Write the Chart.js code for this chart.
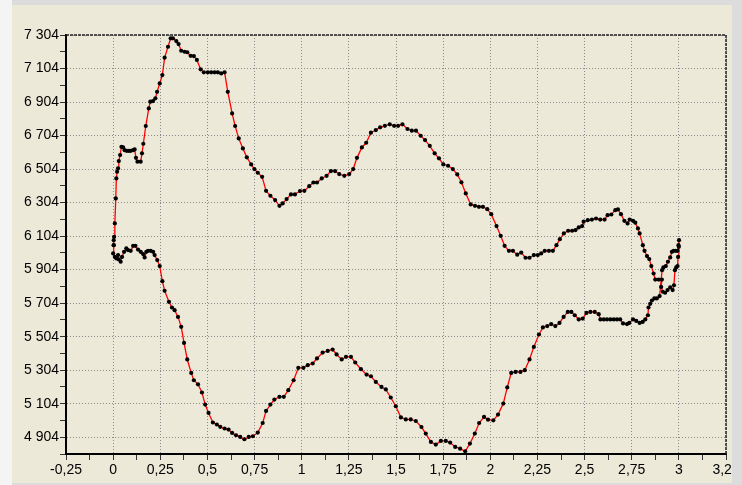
<!DOCTYPE html>
<html>
<head>
<meta charset="utf-8">
<script src="https://cdn.jsdelivr.net/npm/chart.js@4"></script>
<style>
  body { margin: 0; background: #dcdcdc; width: 742px; height: 485px; overflow: hidden; position: relative; }
  #left { position: absolute; left: 0; top: 0; width: 12px; height: 485px; background: #f4f4f4; }
  #wrap { position: absolute; left: 12px; top: 5px; width: 720px; height: 478px; background: #ece9d8; }
</style>
</head>
<body>
<div id="left"></div>
<div id="wrap"><canvas id="grafico" width="720" height="478"></canvas></div>
<script>
// upper branch, left to right
const upperX = [0.003, 0.003, 0.005, 0.009, 0.014, 0.017, 0.021, 0.026, 0.030, 0.037, 0.044, 0.053, 0.061, 0.072, 0.083, 0.093, 0.106, 0.114, 0.121, 0.129, 0.146, 0.153, 0.160, 0.173, 0.189, 0.197, 0.211, 0.224, 0.233, 0.247, 0.261, 0.273, 0.291, 0.305, 0.317, 0.335, 0.347, 0.361, 0.379, 0.393, 0.411, 0.428, 0.444, 0.464, 0.481, 0.502, 0.520, 0.538, 0.555, 0.573, 0.591, 0.608, 0.631, 0.647, 0.666, 0.688, 0.709, 0.732, 0.749, 0.767, 0.790, 0.811, 0.834, 0.859, 0.882, 0.899, 0.920, 0.943, 0.964, 0.991, 1.014, 1.040, 1.062, 1.081, 1.106, 1.132, 1.155, 1.177, 1.199, 1.226, 1.252, 1.273, 1.293, 1.319, 1.342, 1.367, 1.393, 1.416, 1.441, 1.467, 1.490, 1.511, 1.534, 1.561, 1.584, 1.606, 1.631, 1.654, 1.679, 1.705, 1.728, 1.751, 1.776, 1.801, 1.825, 1.847, 1.870, 1.896, 1.919, 1.940, 1.961, 1.984, 2.005, 2.033, 2.055, 2.076, 2.099, 2.120, 2.143, 2.164, 2.187, 2.208, 2.231, 2.252, 2.270, 2.289, 2.311, 2.332, 2.351, 2.369, 2.390, 2.413, 2.434, 2.452, 2.469, 2.487, 2.495, 2.517, 2.539, 2.561, 2.583, 2.606, 2.622, 2.642, 2.663, 2.677, 2.693, 2.711, 2.728, 2.739, 2.757, 2.769, 2.783, 2.792, 2.809, 2.818, 2.831, 2.843, 2.854, 2.866, 2.875, 2.893, 2.910, 2.906, 2.915, 2.927, 2.940, 2.954, 2.967, 2.974, 2.979, 2.986, 2.993, 2.996, 3.000, 3.001];
const upperY = [6050, 6080, 6100, 6180, 6329, 6448, 6488, 6508, 6552, 6588, 6637, 6633, 6617, 6613, 6613, 6613, 6617, 6621, 6571, 6548, 6548, 6598, 6655, 6761, 6866, 6906, 6910, 6926, 6965, 7015, 7065, 7169, 7234, 7284, 7284, 7268, 7250, 7210, 7204, 7201, 7180, 7178, 7155, 7099, 7081, 7081, 7081, 7081, 7081, 7075, 7081, 6965, 6836, 6761, 6687, 6627, 6574, 6532, 6504, 6482, 6458, 6374, 6345, 6319, 6285, 6299, 6325, 6353, 6353, 6373, 6374, 6402, 6424, 6424, 6448, 6464, 6492, 6492, 6474, 6464, 6474, 6504, 6571, 6633, 6661, 6721, 6737, 6753, 6762, 6771, 6762, 6762, 6771, 6743, 6733, 6733, 6703, 6677, 6643, 6598, 6568, 6532, 6524, 6504, 6472, 6425, 6359, 6293, 6285, 6279, 6279, 6265, 6235, 6164, 6106, 6046, 6016, 6016, 5993, 6006, 5975, 5975, 5991, 5991, 6001, 6016, 6016, 6016, 6050, 6086, 6120, 6136, 6136, 6140, 6156, 6164, 6190, 6199, 6203, 6209, 6203, 6203, 6229, 6233, 6259, 6263, 6235, 6195, 6180, 6203, 6195, 6184, 6150, 6120, 6050, 6016, 5985, 5967, 5925, 5881, 5845, 5845, 5845, 5801, 5772, 5766, 5782, 5798, 5782, 5811, 5901, 5917, 5925, 5980, 6040, 6080];

// lower branch, right to left
const lowerX = [2.998, 2.993, 2.984, 2.972, 2.963, 2.954, 2.942, 2.931, 2.918, 2.911, 2.898, 2.883, 2.870, 2.857, 2.848, 2.839, 2.836, 2.822, 2.808, 2.792, 2.774, 2.757, 2.737, 2.725, 2.704, 2.689, 2.672, 2.655, 2.637, 2.619, 2.602, 2.584, 2.575, 2.554, 2.531, 2.510, 2.490, 2.469, 2.448, 2.430, 2.411, 2.389, 2.367, 2.345, 2.323, 2.302, 2.279, 2.258, 2.231, 2.208, 2.183, 2.160, 2.134, 2.111, 2.090, 2.069, 2.041, 2.016, 1.988, 1.967, 1.941, 1.918, 1.892, 1.867, 1.840, 1.814, 1.787, 1.764, 1.738, 1.711, 1.685, 1.658, 1.635, 1.605, 1.578, 1.552, 1.526, 1.499, 1.472, 1.446, 1.423, 1.393, 1.367, 1.344, 1.314, 1.284, 1.261, 1.235, 1.212, 1.185, 1.164, 1.138, 1.111, 1.081, 1.058, 1.032, 1.009, 0.982, 0.957, 0.929, 0.905, 0.882, 0.855, 0.834, 0.811, 0.793, 0.767, 0.741, 0.719, 0.696, 0.674, 0.652, 0.631, 0.612, 0.591, 0.568, 0.550, 0.529, 0.506, 0.488, 0.471, 0.450, 0.428, 0.414, 0.393, 0.376, 0.361, 0.344, 0.326, 0.312, 0.296, 0.273, 0.261, 0.247, 0.234, 0.220, 0.212, 0.199, 0.185, 0.176, 0.167, 0.159, 0.146, 0.132, 0.118, 0.106, 0.093, 0.079, 0.070, 0.058, 0.047, 0.040, 0.030, 0.026, 0.017, 0.009, 0.000, 0.003];
const lowerY = [6050, 6016, 6016, 6016, 6010, 5977, 5951, 5925, 5917, 5901, 5746, 5732, 5732, 5720, 5700, 5678, 5632, 5607, 5592, 5586, 5598, 5607, 5586, 5579, 5583, 5607, 5607, 5607, 5607, 5607, 5607, 5607, 5638, 5652, 5652, 5646, 5612, 5607, 5632, 5652, 5652, 5622, 5586, 5567, 5579, 5567, 5559, 5517, 5443, 5368, 5304, 5294, 5294, 5288, 5201, 5105, 5039, 5005, 5009, 5025, 4989, 4926, 4866, 4820, 4836, 4846, 4872, 4882, 4882, 4860, 4876, 4926, 4965, 5001, 5010, 5010, 5022, 5089, 5141, 5189, 5204, 5234, 5268, 5278, 5310, 5350, 5384, 5384, 5368, 5398, 5427, 5419, 5409, 5374, 5344, 5334, 5318, 5318, 5244, 5185, 5145, 5145, 5129, 5099, 5061, 4989, 4932, 4910, 4906, 4892, 4906, 4916, 4930, 4950, 4956, 4966, 4980, 4992, 5049, 5099, 5171, 5220, 5244, 5288, 5368, 5467, 5563, 5622, 5662, 5678, 5712, 5778, 5835, 5925, 5961, 5991, 6010, 6016, 6016, 6010, 5977, 5997, 6010, 6024, 6046, 6046, 6016, 6021, 6031, 6010, 5980, 5951, 5965, 5991, 5971, 5980, 6001, 6050];

const xTicks = [-0.25, 0, 0.25, 0.5, 0.75, 1, 1.25, 1.5, 1.75, 2, 2.25, 2.5, 2.75, 3, 3.25];
const yTicks = [4904, 5104, 5304, 5504, 5704, 5904, 6104, 6304, 6504, 6704, 6904, 7104, 7304];

const puntos = [];
upperX.forEach((x, i) => puntos.push({ x: x, y: upperY[i] }));
lowerX.forEach((x, i) => puntos.push({ x: x, y: lowerY[i] }));

// minor ticks halfway between the labelled ones
const xAll = [];
xTicks.forEach((v, i) => { xAll.push(v); if (i < xTicks.length - 1) xAll.push((v + xTicks[i + 1]) / 2); });
const yAll = [4804];
yTicks.forEach((v, i) => { yAll.push(v); if (i < yTicks.length - 1) yAll.push(v + 100); });

const esMayorX = v => xTicks.some(t => Math.abs(t - v) < 1e-6);
const esMayorY = v => yTicks.indexOf(v) >= 0;

const fuente = { family: 'Liberation Sans, Arial, sans-serif', size: 14 };

// dashed frame on top and right side
const marco = {
  id: 'marco',
  afterDraw(chart) {
    const { ctx, chartArea: a } = chart;
    ctx.save();
    ctx.strokeStyle = '#222';
    ctx.lineWidth = 1.5;
    ctx.setLineDash([3, 1]);
    ctx.beginPath();
    ctx.moveTo(a.left, a.top);
    ctx.lineTo(a.right, a.top);
    ctx.lineTo(a.right, a.bottom);
    ctx.stroke();
    ctx.restore();
  }
};

new Chart(document.getElementById('grafico').getContext('2d'), {
  type: 'scatter',
  data: {
    datasets: [{
      data: puntos,
      showLine: true,
      borderColor: '#ff0000',
      borderWidth: 1.3,
      pointRadius: 2.1,
      pointBackgroundColor: '#000',
      pointBorderColor: '#000',
      pointBorderWidth: 0
    }]
  },
  options: {
    responsive: false,
    animation: false,
    layout: { padding: { top: 30, right: 6, left: 0, bottom: 0 } },
    plugins: { legend: { display: false }, tooltip: { enabled: false } },
    scales: {
      x: {
        type: 'linear',
        min: -0.25,
        max: 3.25,
        afterBuildTicks: s => { s.ticks = xAll.map(v => ({ value: v })); },
        afterFit: s => { s.height = 29; s.paddingLeft = 0; s.paddingRight = 0; },
        ticks: {
          autoSkip: false,
          maxRotation: 0,
          padding: 2,
          color: '#000',
          font: fuente,
          callback: v => esMayorX(v) ? String(v).replace('.', ',') : ''
        },
        grid: {
          color: c => (c.tick && esMayorX(c.tick.value)) ? '#8a8a8a' : 'rgba(0,0,0,0)',
          tickColor: '#333',
          tickLength: 6,
          lineWidth: 1
        },
        border: { color: '#000', width: 2, dash: [1, 2] }
      },
      y: {
        type: 'linear',
        min: 4804,
        max: 7304,
        afterBuildTicks: s => { s.ticks = yAll.map(v => ({ value: v })); },
        afterFit: s => { s.width = 54; s.paddingTop = 0; s.paddingBottom = 0; },
        ticks: {
          autoSkip: false,
          padding: 1,
          color: '#000',
          font: fuente,
          callback: v => esMayorY(v) ? String(v).replace(/\B(?=(\d{3})+(?!\d))/g, ' ') : ''
        },
        grid: {
          color: c => (c.tick && esMayorY(c.tick.value)) ? '#8a8a8a' : 'rgba(0,0,0,0)',
          tickColor: '#333',
          tickLength: 6,
          lineWidth: 1
        },
        border: { color: '#000', width: 2, dash: [1, 2] }
      }
    }
  },
  plugins: [marco]
});
</script>
</body>
</html>
